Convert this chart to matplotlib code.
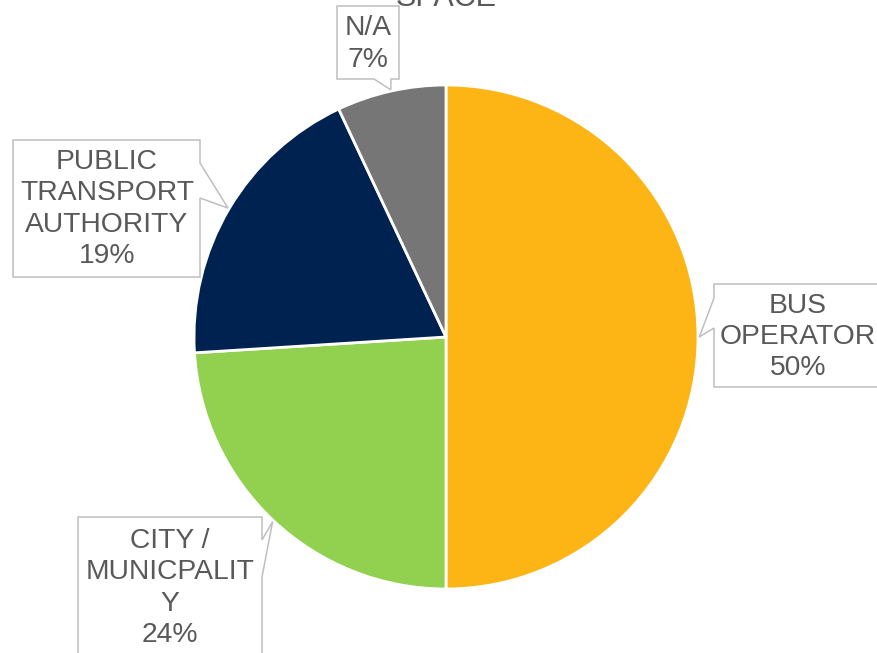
import numpy as np
import matplotlib.pyplot as plt
from matplotlib.patches import Polygon

plt.rcParams['font.family'] = ['Liberation Sans', 'DejaVu Sans']

labels = ["BUS\nOPERATOR", "CITY /\nMUNICPALIT\nY", "PUBLIC\nTRANSPORT\nAUTHORITY", "N/A"]
shares = [50, 24, 19, 7]
colors = ["#FDB515", "#92D050", "#002250", "#767676"]

W, H = 877, 653
fig = plt.figure(figsize=(W / 100, H / 100), dpi=100)
ax = fig.add_axes([0, 0, 1, 1])

# pie geometry in pixel units (y up)
cx, cy, R = 446, H - 337, 252
wedges, _ = ax.pie(shares, colors=colors, startangle=90, counterclock=False,
                   center=(cx, cy), radius=R, frame=True,
                   wedgeprops=dict(edgecolor='white', linewidth=2))
ax.set_xlim(0, W)
ax.set_ylim(0, H)
ax.set_aspect('equal')
ax.axis('off')

# callout boxes (image pixel coords: x0, y0, x1, y1), notch side and base
boxes = [
    ((714, 284, 905, 387), 'left', (298, 328), (798, 337)),
    ((78, 517, 262, 700), 'right', (540, 577), (170, 588)),
    ((13, 140, 200, 277), 'right', (163, 198), (107, 209)),
    ((337, 6, 399, 79), 'bottom', (374, 391), (368, 44)),
]


def callout(rect, side, base, tip):
    x0, y0, x1, y1 = rect
    b0, b1 = base
    if side == 'left':
        pts = [(x0, y0), (x1, y0), (x1, y1), (x0, y1), (x0, b1), tip, (x0, b0)]
    elif side == 'right':
        pts = [(x0, y0), (x1, y0), (x1, b0), tip, (x1, b1), (x1, y1), (x0, y1)]
    else:
        pts = [(x0, y0), (x1, y0), (x1, y1), (b1, y1), tip, (b0, y1), (x0, y1)]
    return [(x, H - y) for x, y in pts]


for w, lab, pct, (rect, side, base, tc) in zip(wedges, labels, shares, boxes):
    mid = np.deg2rad((w.theta1 + w.theta2) / 2)
    tip = (cx + R * 1.005 * np.cos(mid), H - (cy + R * 1.005 * np.sin(mid)))
    poly = Polygon(callout(rect, side, base, tip), closed=True, facecolor='white',
                   edgecolor='#BFBFBF', linewidth=1.1, zorder=3)
    ax.add_patch(poly)
    ax.text(tc[0], H - tc[1], f"{lab}\n{pct}%", ha='center', va='center',
            fontsize=20.3, color='#595959', linespacing=1.27, zorder=4)

ax.text(446, H - 6, "SPACE", ha='center', va='baseline', fontsize=22, color='#595959')

fig.savefig("out.png", dpi=100)
